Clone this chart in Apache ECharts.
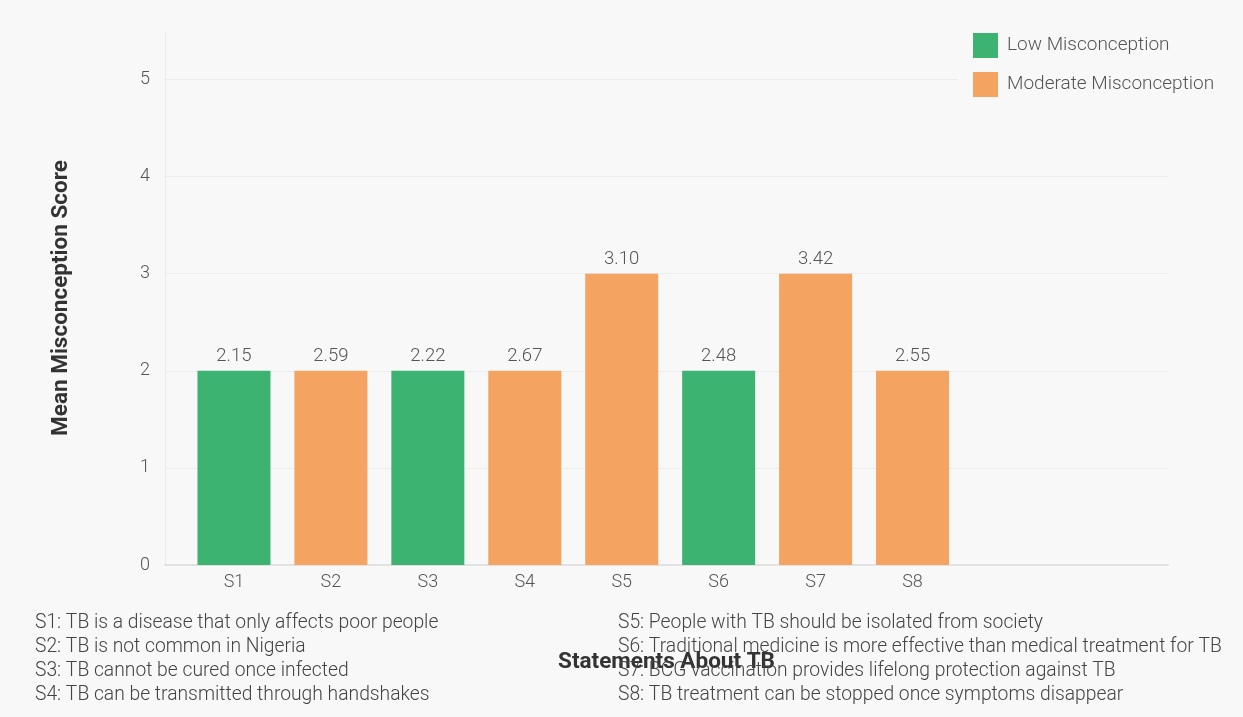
<!DOCTYPE html>
<html>
<head>
<meta charset="utf-8">
<script src="https://cdn.jsdelivr.net/npm/echarts@6/dist/echarts.min.js"></script>
<style>
html,body{margin:0;padding:0;background:#f8f8f8;}
#chart{width:1243px;height:717px;}
</style>
</head>
<body>
<div id="chart"></div>
<script>
// Data
var categories = ['S1','S2','S3','S4','S5','S6','S7','S8'];
var meanScores = [2.15, 2.59, 2.22, 2.67, 3.10, 2.48, 3.42, 2.55];   // printed labels
var barHeights = [2, 2, 2, 2, 3, 2, 3, 2];                             // drawn bar heights
var levels = ['Low','Moderate','Low','Moderate','Moderate','Low','Moderate','Moderate'];
var yTicks = [0, 1, 2, 3, 4, 5];
var statements = [
  'S1: TB is a disease that only affects poor people',
  'S2: TB is not common in Nigeria',
  'S3: TB cannot be cured once infected',
  'S4: TB can be transmitted through handshakes',
  'S5: People with TB should be isolated from society',
  'S6: Traditional medicine is more effective than medical treatment for TB',
  'S7: BCG vaccination provides lifelong protection against TB',
  'S8: TB treatment can be stopped once symptoms disappear'
];

var FONT = 'Roboto, "Noto Sans", sans-serif';
var lowData = barHeights.map(function(v,i){ return levels[i]==='Low' ? v : null; });
var modData = barHeights.map(function(v,i){ return levels[i]==='Moderate' ? v : null; });

var labelCfg = {
  show: true, position: 'top', distance: 5,
  fontFamily: FONT, fontSize: 18.5, fontWeight: 300, color: '#555',
  formatter: function(p){ return meanScores[p.dataIndex].toFixed(2); }
};

var graphics = statements.map(function(s, i){
  var col = i < 4 ? 0 : 1;
  var row = i % 4;
  return {
    type: 'text',
    left: col === 0 ? 35 : 618,
    top: 614 + row * 24,
    style: { text: s, fontFamily: FONT, fontSize: 19.3, fontWeight: 300, fill: '#444' },
    z: 1
  };
});

var chart = echarts.init(document.getElementById('chart'));
chart.setOption({
  backgroundColor: '#f8f8f8',
  animation: false,
  grid: [
    { left: 185.5, right: 282, top: 31, bottom: 152 },
    { left: 165, right: 75, top: 31, bottom: 152 }
  ],
  legend: {
    orient: 'vertical',
    left: 958, top: 18,
    padding: 15,
    backgroundColor: '#f8f8f8',
    itemWidth: 25, itemHeight: 25, itemGap: 14,
    icon: 'rect',
    textStyle: { fontFamily: FONT, fontSize: 19, fontWeight: 300, color: '#555', padding: [0,0,0,4] },
    data: ['Low Misconception', 'Moderate Misconception'],
    z: 10
  },
  xAxis: [
    {
      type: 'category', gridIndex: 0, data: categories,
      axisLine: { show: false }, axisTick: { show: false },
      axisLabel: { fontFamily: FONT, fontSize: 18, fontWeight: 300, color: '#555', margin: 8 }
    },
    {
      type: 'value', gridIndex: 1, min: 0, max: 1,
      axisLine: { show: true, lineStyle: { color: '#e2e2e2', width: 2 } },
      axisTick: { show: false }, axisLabel: { show: false }, splitLine: { show: false },
      name: 'Statements About TB', nameLocation: 'middle', nameGap: 86,
      nameTextStyle: { fontFamily: FONT, fontSize: 22.5, fontWeight: 'bold', color: '#333' }
    }
  ],
  yAxis: [
    {
      type: 'value', gridIndex: 0, min: 0, max: 5.5, interval: 1,
      show: false, splitLine: { show: false }
    },
    {
      type: 'value', gridIndex: 1, min: 0, max: 5.5, interval: 1,
      axisLine: { show: true, lineStyle: { color: '#ebebeb', width: 1 } },
      axisTick: { show: false },
      axisLabel: {
        fontFamily: FONT, fontSize: 18, fontWeight: 300, color: '#555', margin: 15, showMaxLabel: false,
        formatter: function(v){ return yTicks.indexOf(v) >= 0 ? String(v) : ''; }
      },
      splitLine: { show: true, showMaxLine: false, lineStyle: { color: '#ececec', width: 1 } },
      name: 'Mean Misconception Score', nameLocation: 'middle', nameGap: 92,
      nameTextStyle: { fontFamily: FONT, fontSize: 22.5, fontWeight: 'bold', color: '#333' }
    }
  ],
  series: [
    {
      name: 'Low Misconception', type: 'bar', xAxisIndex: 0, yAxisIndex: 0,
      data: lowData, barWidth: 73, barGap: '-100%',
      itemStyle: { color: '#3cb371' }, label: labelCfg, z: 3
    },
    {
      name: 'Moderate Misconception', type: 'bar', xAxisIndex: 0, yAxisIndex: 0,
      data: modData, barWidth: 73, barGap: '-100%',
      itemStyle: { color: '#f4a460' }, label: labelCfg, z: 3
    }
  ],
  graphic: graphics
});
</script>
</body>
</html>
